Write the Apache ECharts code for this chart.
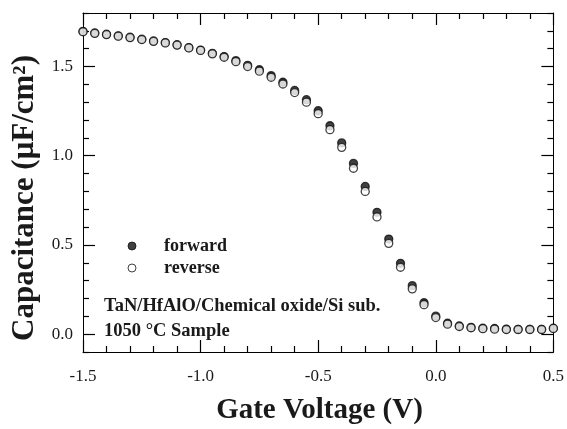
<!DOCTYPE html>
<html>
<head>
<meta charset="utf-8">
<script src="https://cdn.jsdelivr.net/npm/echarts@6/dist/echarts.min.js"></script>
<style>html,body{margin:0;padding:0;background:#fff}#c{width:567px;height:429px}</style>
</head>
<body>
<div id="c"></div>
<script>
var voltage = [-1.5,-1.45,-1.4,-1.35,-1.3,-1.25,-1.2,-1.15,-1.1,-1.05,-1.0,-0.95,-0.9,-0.85,-0.8,-0.75,-0.7,-0.65,-0.6,-0.55,-0.5,
  -0.45,-0.4,-0.35,-0.3,-0.25,-0.2,-0.15,-0.1,-0.05,0.0,0.05,0.1,0.15,0.2,0.25,0.3,0.35,0.4,0.45,0.5];
var forward = [1.697,1.688,1.681,1.672,1.664,1.653,1.643,1.634,1.622,1.606,1.592,1.574,1.556,1.533,1.507,1.482,1.449,1.412,1.366,1.314,1.252,
  1.168,1.072,0.957,0.828,0.683,0.533,0.397,0.272,0.176,0.101,0.061,0.046,0.038,0.033,0.032,0.028,0.027,0.027,0.027,0.033];
var reverse = [1.695,1.686,1.679,1.670,1.662,1.651,1.641,1.632,1.620,1.604,1.590,1.571,1.552,1.527,1.500,1.474,1.440,1.402,1.354,1.300,1.236,
  1.146,1.047,0.930,0.800,0.657,0.509,0.375,0.254,0.165,0.093,0.056,0.043,0.036,0.031,0.028,0.026,0.026,0.026,0.026,0.032];
var xMajorTicks = [-1.5,-1.0,-0.5,0.0,0.5];
var xMinorTicks = [-1.4,-1.3,-1.2,-1.1,-0.9,-0.8,-0.7,-0.6,-0.4,-0.3,-0.2,-0.1,0.1,0.2,0.3,0.4];
var yMajorTicks = [0.0,0.5,1.0,1.5];
var yMinorTicks = [-0.1,0.1,0.2,0.3,0.4,0.6,0.7,0.8,0.9,1.1,1.2,1.3,1.4,1.6,1.7,1.8];
var xTitle = 'Gate Voltage (V)';
var yTitle = 'Capacitance (\u03BCF/cm\u00B2)';
var note1 = 'TaN/HfAlO/Chemical oxide/Si sub.';
var note2 = '1050 \u00B0C Sample';

var FONT = '"Liberation Serif","Times New Roman",serif';
var INK = '#1a1a1a';
var TICK = {color:'#000', width:1.2};
function pair(xs, ys){ return xs.map(function(x,i){return [x, ys[i]];}); }
function fmt(v){ return (+v).toFixed(1); }

function xAx(pos, ticks, len, showLine, showLabel){
  return {type:'value', position:pos, min:-1.5, max:0.5,
    axisLine:{show:showLine, onZero:false, lineStyle:{color:'#000', width:1}},
    splitLine:{show:false}, minorTick:{show:false},
    axisTick:{show:true, inside:true, length:len, customValues:ticks, lineStyle:TICK},
    axisLabel:showLabel ? {show:true, margin:16, fontFamily:FONT, fontSize:17, color:INK, customValues:xMajorTicks, formatter:fmt} : {show:false}};
}
function yAx(pos, ticks, len, showLine, showLabel){
  return {type:'value', position:pos, min:-0.1, max:1.8,
    axisLine:{show:showLine, onZero:false, lineStyle:{color:'#000', width:1}},
    splitLine:{show:false}, minorTick:{show:false},
    axisTick:{show:true, inside:true, length:len, customValues:ticks, lineStyle:TICK},
    axisLabel:showLabel ? {show:true, margin:10, fontFamily:FONT, fontSize:17, color:INK, customValues:yMajorTicks, formatter:fmt} : {show:false}};
}

var chart = echarts.init(document.getElementById('c'), null, {renderer:'canvas'});
chart.setOption({
  animation:false,
  backgroundColor:'#fff',
  grid:{left:83, right:11, top:13, bottom:77},
  xAxis:[
    xAx('bottom', xMajorTicks, 12, true, true),
    xAx('top', xMajorTicks, 12, true, false),
    xAx('bottom', xMinorTicks, 6, false, false),
    xAx('top', xMinorTicks, 6, false, false)
  ],
  yAxis:[
    yAx('left', yMajorTicks, 12, true, true),
    yAx('right', yMajorTicks, 12, true, false),
    yAx('left', yMinorTicks, 6, false, false),
    yAx('right', yMinorTicks, 6, false, false)
  ],
  legend:{
    orient:'vertical', left:122.5, top:232, itemWidth:54, itemHeight:8, itemGap:4,
    itemStyle:{borderWidth:1},
    textStyle:{fontFamily:FONT, fontSize:18, fontWeight:'bold', color:INK},
    data:[{name:'forward', icon:'circle'},{name:'reverse', icon:'circle'}]
  },
  series:[
    {name:'forward', type:'scatter', xAxisIndex:0, yAxisIndex:0, symbol:'circle', symbolSize:8,
      itemStyle:{color:'#111', borderColor:'#111', borderWidth:1.3}, data:pair(voltage, forward), z:2},
    {name:'reverse', type:'scatter', xAxisIndex:0, yAxisIndex:0, symbol:'circle', symbolSize:8,
      itemStyle:{color:'#fff', borderColor:'#111', borderWidth:1.3}, data:pair(voltage, reverse), z:3}
  ],
  graphic:[
    {type:'text', x:319.5, y:411, style:{text:xTitle, font:'bold 29px '+FONT, fill:INK, align:'center', verticalAlign:'middle'}},
    {type:'text', x:25, y:198, rotation:Math.PI/2, style:{text:yTitle, font:'bold 31px '+FONT, fill:INK, align:'center', verticalAlign:'middle'}},
    {type:'text', x:104, y:306.7, style:{text:note1, font:'bold 18.5px '+FONT, fill:INK, align:'left', verticalAlign:'middle'}},
    {type:'text', x:104, y:331.7, style:{text:note2, font:'bold 18.5px '+FONT, fill:INK, align:'left', verticalAlign:'middle'}}
  ]
});
</script>
</body>
</html>
